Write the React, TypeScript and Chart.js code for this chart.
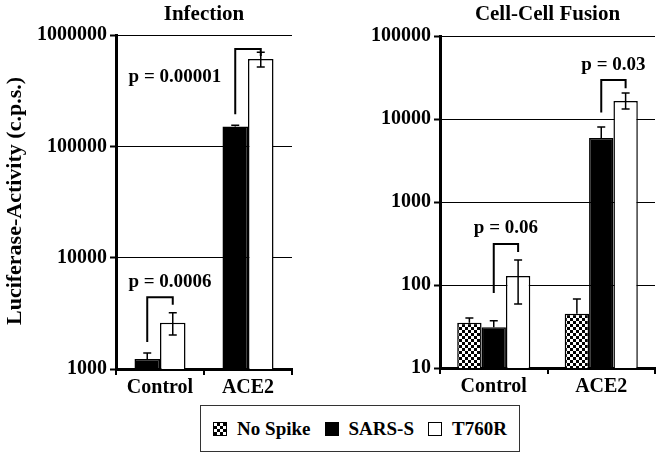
import React, { useEffect, useRef } from "react";
import { Chart, registerables } from "chart.js";
Chart.register(...registerables);

const FONT = "'Liberation Serif', 'Times New Roman', serif";

// ---------- data ----------
const categories = ["Control", "ACE2"];
const seriesNames = ["No Spike", "SARS-S", "T760R"];

// Infection
const infTitle = "Infection";
const infTicks = [1000, 10000, 100000, 1000000];
const infSars = [1230, 151000];
const infSarsHi = [1390, 155000];
const infT760 = [2600, 608000];
const infT760Hi = [3200, 700000];
const infT760Lo = [2020, 515000];
const infBracketTop = [4400, 748000];
const infBracketLeftEnd = [1750, 194000];
const infBracketRightEnd = [3780, 647000];
const infPLabels = ["p = 0.0006", "p = 0.00001"];
const infPLabelY = [6000, 419000];

// Cell-Cell Fusion
const fusTitle = "Cell-Cell Fusion";
const fusTicks = [10, 100, 1000, 10000, 100000];
const fusNoSpike = [35, 45];
const fusNoSpikeHi = [40, 68];
const fusSars = [31, 5900];
const fusSarsHi = [37, 8000];
const fusT760 = [128, 16500];
const fusT760Hi = [200, 20500];
const fusT760Lo = [59, 13200];
const fusBracketTop = [312, 29500];
const fusBracketLeftEnd = [80, 12000];
const fusBracketRightEnd = [250, 23500];
const fusPLabels = ["p = 0.06", "p = 0.03"];
const fusPLabelY = [486, 44700];

const yAxisTitle = "Luciferase-Activity (c.p.s.)";

function checkerPattern(): CanvasPattern | string {
  const c = document.createElement("canvas");
  c.width = 6;
  c.height = 6;
  const g = c.getContext("2d");
  if (!g) return "#888";
  g.fillStyle = "#fff";
  g.fillRect(0, 0, 6, 6);
  g.fillStyle = "#000";
  g.fillRect(0, 0, 3, 3);
  g.fillRect(3, 3, 3, 3);
  return g.createPattern(c, "repeat") || "#888";
}

type Err = { hi?: number[]; lo?: number[] };
type Bracket = {
  from: number;
  to: number;
  top: number[];
  leftEnd: number[];
  rightEnd: number[];
  labels: string[];
  labelY: number[];
  align: ("center" | "right")[];
  dx: number[];
};

type Cfg = {
  title: string;
  ticks: number[];
  datasets: { label: string; data: number[]; color: any; err: Err }[];
  bracket: Bracket;
  yTitle?: string;
  yWidth: number;
  xHeight: number;
  padTop: number;
  padRight: number;
  catPct: number;
};

function makePlugin(cfg: Cfg) {
  return {
    id: "annot" + cfg.title.replace(/\W/g, ""),
    afterDraw(chart: any) {
      const ctx = chart.ctx as CanvasRenderingContext2D;
      const ca = chart.chartArea;
      const y = chart.scales.y;
      ctx.save();
      // error bars
      ctx.strokeStyle = "#000";
      ctx.lineWidth = 1.5;
      cfg.datasets.forEach((ds, di) => {
        const meta = chart.getDatasetMeta(di);
        meta.data.forEach((bar: any, i: number) => {
          if (!ds.err.hi) return;
          const x = bar.x;
          const yh = y.getPixelForValue(ds.err.hi[i]);
          const yl = ds.err.lo ? y.getPixelForValue(ds.err.lo[i]) : bar.y;
          ctx.beginPath();
          ctx.moveTo(x, yh);
          ctx.lineTo(x, yl);
          ctx.moveTo(x - 4, yh);
          ctx.lineTo(x + 4, yh);
          if (ds.err.lo) {
            ctx.moveTo(x - 4, yl);
            ctx.lineTo(x + 4, yl);
          }
          ctx.stroke();
        });
      });
      // brackets
      const b = cfg.bracket;
      const m1 = chart.getDatasetMeta(b.from);
      const m2 = chart.getDatasetMeta(b.to);
      ctx.lineWidth = 2;
      ctx.font = `bold 19px ${FONT}`;
      ctx.fillStyle = "#000";
      ctx.textBaseline = "middle";
      categories.forEach((_, i) => {
        const x1 = m1.data[i].x;
        const x2 = m2.data[i].x;
        const yt = y.getPixelForValue(b.top[i]);
        ctx.beginPath();
        ctx.moveTo(x1, y.getPixelForValue(b.leftEnd[i]));
        ctx.lineTo(x1, yt);
        ctx.lineTo(x2, yt);
        ctx.lineTo(x2, y.getPixelForValue(b.rightEnd[i]));
        ctx.stroke();
        const ty = y.getPixelForValue(b.labelY[i]);
        if (b.align[i] === "right") {
          ctx.textAlign = "right";
          ctx.fillText(b.labels[i], x1 + b.dx[i], ty);
        } else {
          ctx.textAlign = "center";
          ctx.fillText(b.labels[i], (x1 + x2) / 2 + b.dx[i], ty);
        }
      });
      // title
      ctx.font = `bold 21px ${FONT}`;
      ctx.textAlign = "center";
      ctx.fillText(cfg.title, (ca.left + ca.right) / 2, 15);
      if (cfg.yTitle) {
        ctx.save();
        ctx.translate(15, (ca.top + ca.bottom) / 2 - 1);
        ctx.rotate(-Math.PI / 2);
        ctx.font = `bold 22px ${FONT}`;
        ctx.fillText(cfg.yTitle, 0, 0);
        ctx.restore();
      }
      ctx.restore();
    },
  };
}

function LogBars({ cfg, left, width, height }: { cfg: Cfg; left: number; width: number; height: number }) {
  const ref = useRef<HTMLCanvasElement>(null);
  useEffect(() => {
    if (!ref.current) return;
    const tickFont = { family: FONT, weight: "bold" as const, size: 20 };
    const chart = new Chart(ref.current, {
      type: "bar",
      data: {
        labels: categories,
        datasets: cfg.datasets.map((d) => ({
          label: d.label,
          data: d.data,
          backgroundColor: d.color,
          borderColor: "#000",
          borderWidth: 1.5,
          categoryPercentage: cfg.catPct,
          barPercentage: 1,
        })),
      },
      options: {
        animation: false,
        responsive: false,
        devicePixelRatio: 1,
        layout: { padding: { top: cfg.padTop, right: cfg.padRight, left: 0, bottom: 0 } },
        plugins: { legend: { display: false }, tooltip: { enabled: false }, title: { display: false } },
        scales: {
          x: {
            afterFit: (s: any) => {
              s.height = cfg.xHeight;
            },
            ticks: { font: tickFont, color: "#000", padding: 1 },
            grid: { offset: true, drawOnChartArea: false, drawTicks: true, tickLength: 6, color: "#000", lineWidth: 2 },
            border: { display: true, color: "#000", width: 3 },
          },
          y: {
            type: "logarithmic",
            min: cfg.ticks[0],
            max: cfg.ticks[cfg.ticks.length - 1],
            afterBuildTicks: (s: any) => {
              s.ticks = cfg.ticks.map((v) => ({ value: v }));
            },
            afterFit: (s: any) => {
              s.width = cfg.yWidth;
            },
            ticks: { font: tickFont, color: "#000", padding: 3, callback: (v: any) => String(v) },
            grid: { color: "#000", lineWidth: 1, drawTicks: true, tickLength: 6, tickColor: "#000", tickWidth: 2 },
            border: { display: true, color: "#000", width: 3 },
          },
        },
      } as any,
      plugins: [makePlugin(cfg)],
    });
    return () => chart.destroy();
  }, []);
  return (
    <canvas
      ref={ref}
      width={width}
      height={height}
      style={{ position: "absolute", left, top: 0, width, height }}
    />
  );
}

const swatchBase: React.CSSProperties = {
  display: "inline-block",
  width: 14,
  height: 14,
  border: "1px solid #000",
  boxSizing: "border-box",
  marginRight: 10,
};

export default function App() {
  const checker = checkerPattern();
  const infCfg: Cfg = {
    title: infTitle,
    ticks: infTicks,
    datasets: [
      { label: seriesNames[1], data: infSars, color: "#000", err: { hi: infSarsHi } },
      { label: seriesNames[2], data: infT760, color: "#fff", err: { hi: infT760Hi, lo: infT760Lo } },
    ],
    bracket: {
      from: 0,
      to: 1,
      top: infBracketTop,
      leftEnd: infBracketLeftEnd,
      rightEnd: infBracketRightEnd,
      labels: infPLabels,
      labelY: infPLabelY,
      align: ["center", "right"],
      dx: [10, -14],
    },
    yTitle: yAxisTitle,
    yWidth: 116,
    xHeight: 31,
    padTop: 35,
    padRight: 38,
    catPct: 0.58,
  };
  const fusCfg: Cfg = {
    title: fusTitle,
    ticks: fusTicks,
    datasets: [
      { label: seriesNames[0], data: fusNoSpike, color: checker, err: { hi: fusNoSpikeHi } },
      { label: seriesNames[1], data: fusSars, color: "#000", err: { hi: fusSarsHi } },
      { label: seriesNames[2], data: fusT760, color: "#fff", err: { hi: fusT760Hi, lo: fusT760Lo } },
    ],
    bracket: {
      from: 1,
      to: 2,
      top: fusBracketTop,
      leftEnd: fusBracketLeftEnd,
      rightEnd: fusBracketRightEnd,
      labels: fusPLabels,
      labelY: fusPLabelY,
      align: ["center", "center"],
      dx: [0, 0],
    },
    yWidth: 110,
    xHeight: 32,
    padTop: 36,
    padRight: 6,
    catPct: 0.68,
  };
  const legendSw = [
    { ...swatchBase, background: "repeating-conic-gradient(#000 0 25%, #fff 0 50%) 0 0 / 6px 6px" },
    { ...swatchBase, background: "#000" },
    { ...swatchBase, background: "#fff" },
  ];
  return (
    <div style={{ position: "absolute", left: 0, top: 0, width: 661, height: 457, background: "#fff" }}>
      <LogBars cfg={infCfg} left={0} width={330} height={400} />
      <LogBars cfg={fusCfg} left={330} width={331} height={400} />
      <div
        style={{
          position: "absolute",
          left: 200,
          top: 405,
          width: 320,
          height: 47,
          border: "1.5px solid #333",
          boxSizing: "border-box",
          display: "flex",
          alignItems: "center",
          justifyContent: "center",
          fontFamily: FONT,
          fontWeight: "bold",
          fontSize: 19,
          color: "#000",
        }}
      >
        {seriesNames.map((n, i) => (
          <span key={n} style={{ display: "inline-flex", alignItems: "center", marginRight: i < 2 ? 14 : 0 }}>
            <span style={legendSw[i]} />
            {n}
          </span>
        ))}
      </div>
    </div>
  );
}
